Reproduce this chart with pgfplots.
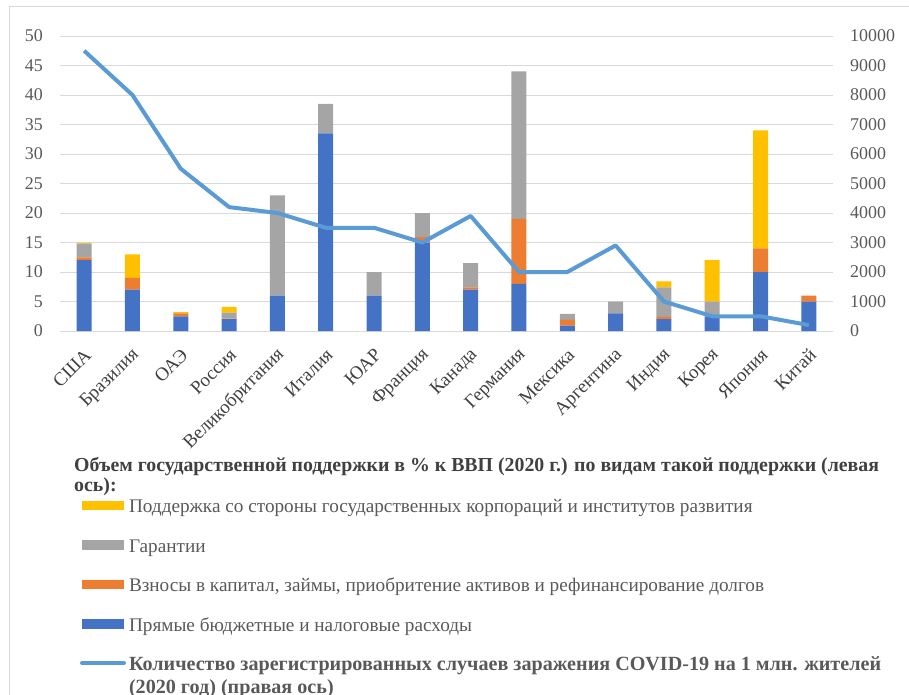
\documentclass[border=0pt]{standalone}
\usepackage{fontspec}
\setmainfont{Liberation Serif}
\usepackage{pgfplots}
\usepackage{pgfplotstable}
\pgfplotsset{compat=1.18}

\definecolor{cBlue}{HTML}{4472C4}
\definecolor{cOrange}{HTML}{ED7D31}
\definecolor{cGray}{HTML}{A5A5A5}
\definecolor{cYellow}{HTML}{FFC000}
\definecolor{cLine}{HTML}{5B9BD5}
\definecolor{cText}{HTML}{595959}
\definecolor{cTitle}{HTML}{404040}
\definecolor{cGrid}{HTML}{D9D9D9}

% x: 0 USA ... 15 China; shares of GDP (left), cases per 1 mln (right)
\pgfplotstableread{
x  direct capital guar corp cases
0  12     0.5     2.3  0.2  9500
1  7      2       0    4    8000
2  2.5    0.5     0    0.2  5500
3  2      0.1     1    1    4200
4  6      0       17   0    4000
5  33.5   0       5    0    3500
6  6      0       4    0    3500
7  15     0.9     4.1  0    3000
8  7      0.4     4.1  0    3900
9  8      11      25   0    2000
10 0.9    1       1    0    2000
11 3      0       2    0    2900
12 2      0.4     5    1    1000
13 2.5    0       2.5  7    500
14 10     4       0    20   500
15 5      1       0    0    200
}\data

\begin{document}
\begin{tikzpicture}
\useasboundingbox (-60bp,-364bp) rectangle (849bp,331bp);
\draw[cGrid, line width=1bp] (-50bp,-364bp) -- (-50bp,324bp) -- (849bp,324bp);

\begin{axis}[
  scale only axis, width=773bp, height=295bp,
  ybar stacked, bar width=15bp,
  xmin=-0.5, xmax=15.5, ymin=0, ymax=50,
  ytick={0,5,...,50},
  xtick={0,...,15},
  xticklabels={США, Бразилия, ОАЭ, Россия, Великобритания, Италия, ЮАР, Франция, Канада, Германия, Мексика, Аргентина, Индия, Корея, Япония, Китай},
  axis line style={draw=none},
  major tick length=0pt,
  ymajorgrids, grid style={cGrid, line width=1bp},
  /pgf/number format/assume math mode=true,
  yticklabel style={font=\fontsize{18}{20}\selectfont, text=cText, inner sep=0pt},
  yticklabel shift=17bp,
  xticklabel style={font=\fontsize{19}{21}\selectfont, text=cTitle,
    xshift=4bp, yshift=-21bp, anchor=east, rotate=45, inner sep=0pt},
]
\addplot[fill=cBlue, draw=none] table[x=x, y=direct] {\data};
\addplot[fill=cOrange, draw=none] table[x=x, y=capital] {\data};
\addplot[fill=cGray, draw=none] table[x=x, y=guar] {\data};
\addplot[fill=cYellow, draw=none] table[x=x, y=corp] {\data};
\end{axis}

\begin{axis}[
  scale only axis, width=773bp, height=295bp,
  xmin=-0.5, xmax=15.5, ymin=0, ymax=10000,
  ytick={0,1000,...,10000}, scaled y ticks=false,
  axis y line*=right, axis x line=none,
  axis line style={draw=none},
  major tick length=0pt,
  /pgf/number format/assume math mode=true,
  /pgf/number format/1000 sep={},
  yticklabel style={font=\fontsize{18}{20}\selectfont, text=cText, inner sep=0pt, anchor=west},
  yticklabel shift=17bp,
  legend style={at={(axis description cs:0.0259,-0.5685)}, anchor=north west,
    draw=none, fill=none, inner sep=0pt, outer sep=0pt, row sep=20.5bp,
    font=\fontsize{19.3}{22}\selectfont, text=cText,
    nodes={inner sep=0pt, text height=14bp, text depth=5bp, anchor=west},
    /tikz/every odd column/.append style={column sep=3bp}},
  legend cell align=left,
]
\addlegendimage{legend image code/.code={\fill[cYellow] (0bp,-1bp) rectangle (41bp,7.3bp);}}
\addlegendentry{Поддержка со стороны государственных корпораций и институтов развития}
\addlegendimage{legend image code/.code={\fill[cGray] (0bp,-1bp) rectangle (41bp,7.3bp);}}
\addlegendentry{Гарантии}
\addlegendimage{legend image code/.code={\fill[cOrange] (0bp,-1bp) rectangle (41bp,7.3bp);}}
\addlegendentry{Взносы в капитал, займы, приобритение активов и рефинансирование долгов}
\addlegendimage{legend image code/.code={\fill[cBlue] (0bp,-1bp) rectangle (41bp,7.3bp);}}
\addlegendentry{Прямые бюджетные и налоговые расходы}
\addplot[cLine, line width=4bp, line join=round, mark=none,
  legend image code/.code={\draw[cLine, line width=4bp, line cap=round] (0bp,3.2bp) -- (42bp,3.2bp);}]
  table[x=x, y=cases] {\data};
\addlegendentry{\fontsize{20.2}{22.5}\selectfont\begin{tabular}[t]{@{}l@{}}\textbf{Количество зарегистрированных случаев заражения COVID-19 на 1 млн. жителей}\\\textbf{(2020 год) (правая ось)}\end{tabular}}
\end{axis}

\node[anchor=base west, align=left, inner sep=0pt, text=cTitle,
  font=\bfseries\fontsize{19.9}{20.5}\selectfont] at (14bp,-160.7bp)
  {Объем государственной поддержки в \% к ВВП (2020 г.) по видам такой поддержки (левая\\ось):};
\end{tikzpicture}
\end{document}
